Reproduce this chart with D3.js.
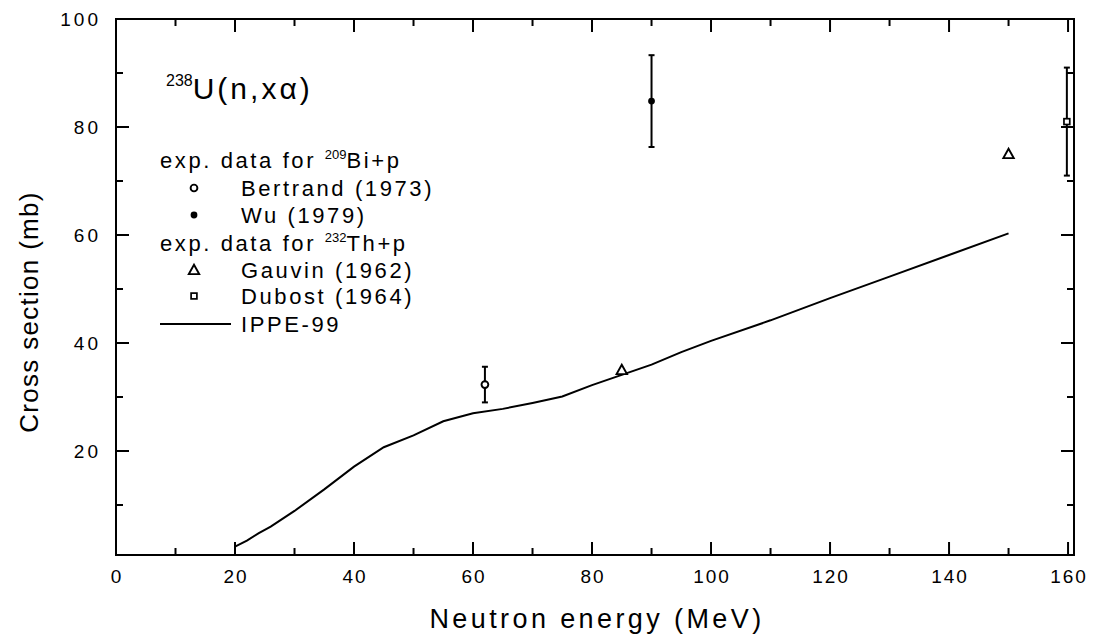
<!DOCTYPE html>
<html>
<head>
<meta charset="utf-8">
<script src="https://cdn.jsdelivr.net/npm/d3@7"></script>
<style>
  html, body { margin: 0; padding: 0; background: #fff; }
  svg { display: block; }
  text { font-family: "Liberation Sans", Arial, sans-serif; fill: #000; }
</style>
</head>
<body>
<svg id="chart" width="1095" height="639"></svg>
<script>
// IPPE-99 evaluation curve, 238U(n,xα)
const ippeEnergy = [20, 22, 24, 26, 30, 35, 40, 45, 50, 55, 60, 65, 70, 75, 80, 85, 90, 95, 100, 110, 120, 130, 140, 150];
const ippeSigma  = [2.3, 3.4, 4.8, 6.0, 8.9, 12.9, 17.1, 20.7, 22.9, 25.5, 27.0, 27.8, 28.9, 30.1, 32.2, 34.1, 36.0, 38.3, 40.4, 44.2, 48.3, 52.3, 56.3, 60.3];

// Experimental points (energy MeV, cross section mb, error mb)
const bertrandE = [62];   const bertrandS = [32.3]; const bertrandErr = [3.3];
const wuE       = [90];   const wuS       = [84.8]; const wuErr       = [8.5];
const gauvinE   = [85, 150]; const gauvinS = [35.0, 75.0];
const dubostE   = [159.8]; const dubostS  = [81.0]; const dubostErr   = [10.0];

const xMajor = [0, 20, 40, 60, 80, 100, 120, 140, 160];
const xMinor = [10, 30, 50, 70, 90, 110, 130, 150];
const yMajor = [20, 40, 60, 80, 100];
const yMinor = [10, 30, 50, 70, 90];

const svg = d3.select("#chart");
const L = 116, R = 1074, T = 19, B = 555;

const x = d3.scaleLinear().domain([0, 161]).range([L, R]);
const y = d3.scaleLinear().domain([0.74, 100]).range([B, T]);

const majorLen = 13, minorLen = 7;

// Frame
svg.append("rect")
  .attr("x", L).attr("y", T).attr("width", R - L).attr("height", B - T)
  .attr("fill", "none").attr("stroke", "#000").attr("stroke-width", 2);

// Ticks on all four sides, pointing inwards
const tickG = svg.append("g").attr("stroke", "#000").attr("stroke-width", 2);
function xTicks(vals, len) {
  vals.forEach(v => {
    tickG.append("line").attr("x1", x(v)).attr("x2", x(v)).attr("y1", B).attr("y2", B - len);
    tickG.append("line").attr("x1", x(v)).attr("x2", x(v)).attr("y1", T).attr("y2", T + len);
  });
}
function yTicks(vals, len) {
  vals.forEach(v => {
    tickG.append("line").attr("x1", L).attr("x2", L + len).attr("y1", y(v)).attr("y2", y(v));
    tickG.append("line").attr("x1", R).attr("x2", R - len).attr("y1", y(v)).attr("y2", y(v));
  });
}
xTicks(xMajor.filter(v => v > 0), majorLen);
xTicks(xMinor, minorLen);
yTicks(yMajor.filter(v => v < 100), majorLen);
yTicks(yMinor, minorLen);

// Tick labels
svg.append("g").selectAll("text").data(xMajor).join("text")
  .attr("x", d => x(d) + 1).attr("y", B + 28)
  .attr("text-anchor", "middle")
  .attr("font-size", 19).attr("letter-spacing", 2)
  .text(d => d);

svg.append("g").selectAll("text").data(yMajor).join("text")
  .attr("x", L - 15).attr("y", d => y(d) + 7)
  .attr("text-anchor", "end")
  .attr("font-size", 19).attr("letter-spacing", 3)
  .text(d => d);

// Axis titles
svg.append("text")
  .attr("x", (L + R) / 2 + 2).attr("y", 628)
  .attr("text-anchor", "middle")
  .attr("font-size", 27).attr("letter-spacing", 3.4)
  .text("Neutron energy (MeV)");

svg.append("text")
  .attr("transform", `translate(38, 312) rotate(-90)`)
  .attr("text-anchor", "middle")
  .attr("font-size", 26).attr("letter-spacing", 1.3)
  .text("Cross section (mb)");

// IPPE-99 curve
const line = d3.line().x(d => x(d[0])).y(d => y(d[1]));
svg.append("path")
  .datum(d3.zip(ippeEnergy, ippeSigma))
  .attr("d", line)
  .attr("fill", "none").attr("stroke", "#000").attr("stroke-width", 2);

// Error bars
function errorBars(E, S, Err) {
  E.forEach((e, i) => {
    const cx = x(e), lo = y(S[i] - Err[i]), hi = y(S[i] + Err[i]);
    const g = svg.append("g").attr("stroke", "#000").attr("stroke-width", 2);
    g.append("line").attr("x1", cx).attr("x2", cx).attr("y1", lo).attr("y2", hi);
    g.append("line").attr("x1", cx - 3).attr("x2", cx + 3).attr("y1", lo).attr("y2", lo);
    g.append("line").attr("x1", cx - 3).attr("x2", cx + 3).attr("y1", hi).attr("y2", hi);
  });
}
errorBars(bertrandE, bertrandS, bertrandErr);
errorBars(wuE, wuS, wuErr);
errorBars(dubostE, dubostS, dubostErr);

// Marker drawers
function openCircle(g, cx, cy) {
  g.append("circle").attr("cx", cx).attr("cy", cy).attr("r", 3.4)
    .attr("fill", "#fff").attr("stroke", "#000").attr("stroke-width", 1.9);
}
function filledCircle(g, cx, cy) {
  g.append("circle").attr("cx", cx).attr("cy", cy).attr("r", 3.4).attr("fill", "#000");
}
function openTriangle(g, cx, cy) {
  const s = 5.2;
  g.append("path")
    .attr("d", `M${cx},${cy - s} L${cx + s},${cy + s * 0.8} L${cx - s},${cy + s * 0.8} Z`)
    .attr("fill", "#fff").attr("stroke", "#000").attr("stroke-width", 1.9);
}
function openSquare(g, cx, cy) {
  g.append("rect").attr("x", cx - 2.9).attr("y", cy - 2.9).attr("width", 5.8).attr("height", 5.8)
    .attr("fill", "#fff").attr("stroke", "#000").attr("stroke-width", 1.7);
}

const marks = svg.append("g");
bertrandE.forEach((e, i) => openCircle(marks, x(e), y(bertrandS[i])));
wuE.forEach((e, i) => filledCircle(marks, x(e), y(wuS[i])));
gauvinE.forEach((e, i) => openTriangle(marks, x(e), y(gauvinS[i])));
dubostE.forEach((e, i) => openSquare(marks, x(e), y(dubostS[i])));

// Reaction label
const title = svg.append("text").attr("x", 166).attr("y", 99).attr("font-size", 30).attr("letter-spacing", 3);
title.append("tspan").attr("font-size", 16).attr("dy", -13).attr("letter-spacing", 0).text("238");
title.append("tspan").attr("dy", 13).text("U(n,xα)");

// Legend
const leg = svg.append("g").attr("font-size", 22).attr("letter-spacing", 2.6);
function headerRow(yy, sup, rest) {
  const t = leg.append("text").attr("x", 160).attr("y", yy);
  t.append("tspan").text("exp. data for ");
  t.append("tspan").attr("font-size", 13).attr("dy", -9).attr("letter-spacing", 0).text(sup);
  t.append("tspan").attr("dy", 9).text(rest);
}
headerRow(168, "209", "Bi+p");
headerRow(251, "232", "Th+p");

const symX = 194, txtX = 241;
const rows = [
  {yy: 196, label: "Bertrand (1973)", draw: openCircle},
  {yy: 223, label: "Wu (1979)", draw: filledCircle},
  {yy: 278, label: "Gauvin (1962)", draw: openTriangle},
  {yy: 304, label: "Dubost (1964)", draw: openSquare}
];
rows.forEach(r => {
  r.draw(leg, symX, r.yy - 8);
  leg.append("text").attr("x", txtX).attr("y", r.yy).text(r.label);
});
leg.append("line").attr("x1", 160).attr("x2", 231).attr("y1", 324).attr("y2", 324)
  .attr("stroke", "#000").attr("stroke-width", 2);
leg.append("text").attr("x", txtX).attr("y", 332).text("IPPE-99");
</script>
</body>
</html>
